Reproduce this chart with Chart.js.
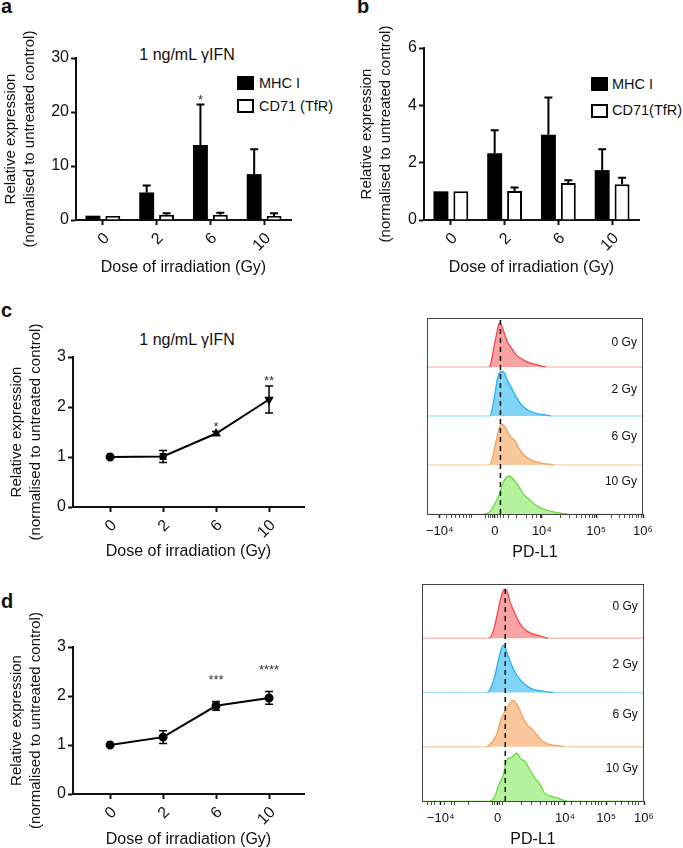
<!DOCTYPE html>
<html>
<head>
<meta charset="utf-8">
<script src="https://cdn.jsdelivr.net/npm/chart.js@4.4.1/dist/chart.umd.min.js"></script>
<style>
  body { margin: 0; background: #fff; font-family: "Liberation Sans", Arial, sans-serif; }
  #fig { position: relative; width: 683px; height: 848px; overflow: hidden; }
  canvas { position: absolute; }
  .t { position: absolute; white-space: nowrap; color: #111; }
  .lbl { font-weight: bold; font-size: 20px; line-height: 20px; }
  .ttl { font-size: 16px; line-height: 16px; transform: translateX(-50%); }
  .leg { font-size: 14.5px; line-height: 15px; }
  .box { position: absolute; width: 17px; height: 14px; box-sizing: border-box; }
</style>
</head>
<body>
<div id="fig">
  <div class="t lbl" style="left:1px;top:-4px">a</div>
  <div class="t lbl" style="left:357px;top:-4px">b</div>
  <div class="t lbl" style="left:1px;top:300px">c</div>
  <div class="t lbl" style="left:1px;top:591px">d</div>

  <div class="t ttl" style="left:187px;top:47px">1 ng/mL γIFN</div>
  <div class="t ttl" style="left:187px;top:332px">1 ng/mL γIFN</div>

  <div class="box" style="left:237px;top:76px;background:#000"></div>
  <div class="t leg" style="left:259px;top:76px">MHC I</div>
  <div class="box" style="left:237px;top:99px;border:2px solid #000;background:#fff"></div>
  <div class="t leg" style="left:259px;top:99px">CD71 (TfR)</div>

  <div class="box" style="left:591px;top:77px;background:#000"></div>
  <div class="t leg" style="left:612px;top:77px">MHC I</div>
  <div class="box" style="left:591px;top:104px;border:2px solid #000;background:#fff"></div>
  <div class="t leg" style="left:612px;top:103px">CD71(TfR)</div>

  <canvas id="chartA" width="340" height="277" style="left:0;top:0"></canvas>
  <canvas id="chartB" width="343" height="277" style="left:340px;top:0"></canvas>
  <canvas id="chartC" width="340" height="261" style="left:0;top:300px"></canvas>
  <canvas id="chartD" width="340" height="259" style="left:0;top:590px"></canvas>
  <canvas id="histC" width="280" height="262" style="left:380px;top:300px"></canvas>
  <canvas id="histD" width="280" height="279" style="left:380px;top:570px"></canvas>
</div>
<script>
// doses on every x axis
var doses = ['0', '2', '6', '10'];

// panel a: MHC I / CD71 at 1 ng/mL IFN (mean, +SD)
var aMhc = [0.8, 5.1, 13.9, 8.5];
var aMhcSd = [0, 1.3, 7.5, 4.6];
var aCd71 = [0.75, 0.95, 0.95, 0.75];
var aCd71Sd = [0, 0.3, 0.4, 0.5];
var aSig = ['', '', '*', ''];

// panel b
var bMhc = [1.0, 2.33, 2.97, 1.74];
var bMhcSd = [0, 0.8, 1.3, 0.73];
var bCd71 = [1.0, 1.01, 1.29, 1.25];
var bCd71Sd = [0, 0.12, 0.1, 0.22];

// panel c / d: PD-L1 relative expression
var cMean = [1.0, 1.01, 1.47, 2.15];
var cSd = [0, 0.12, 0.04, 0.27];
var cSig = ['', '', '*', '**'];
var dMean = [1.0, 1.16, 1.8, 1.96];
var dSd = [0, 0.13, 0.09, 0.13];
var dSig = ['', '', '***', '****'];

// flow histograms: [channel (% of axis), height (fraction of row)]
var rowLabels = ['0 Gy', '2 Gy', '6 Gy', '10 Gy'];
var histC0 = [[0,0],[28.8,0],[29.9,0.15],[31,0.42],[32.2,0.69],[33.3,0.91],[33.8,0.93],[35.3,0.78],[36.9,0.56],[39.2,0.39],[41.5,0.25],[44.6,0.15],[47.8,0.08],[50.9,0.05],[54,0.01],[55,0],[100,0]];
var histC2 = [[0,0],[29.1,0],[30.4,0.2],[31.5,0.48],[32.6,0.78],[33.8,0.92],[35,0.94],[36.1,0.88],[37.2,0.75],[38.4,0.65],[40,0.51],[41.5,0.39],[43.1,0.27],[45.4,0.17],[47.8,0.1],[50.9,0.05],[56.3,0.01],[57.5,0],[100,0]];
var histC6 = [[0,0],[28.8,0],[30.4,0.17],[31.9,0.48],[33.5,0.78],[34.6,0.86],[35.7,0.83],[37.2,0.71],[38.8,0.59],[40.8,0.5],[42.3,0.37],[44.6,0.22],[47,0.14],[50.1,0.07],[54,0.03],[57.8,0.01],[59,0],[100,0]];
var histC10 = [[0,0],[26.4,0],[29.1,0.05],[31.5,0.22],[33.8,0.46],[35.3,0.66],[36.9,0.78],[38.1,0.8],[40,0.73],[42.3,0.59],[44.6,0.42],[47,0.32],[49.3,0.22],[52.4,0.13],[56.3,0.07],[60.2,0.03],[64.8,0],[100,0]];
var histD0 = [[0,0],[30.1,0],[32.1,0.14],[33.6,0.39],[35.1,0.7],[36.1,0.85],[37,0.93],[38.1,0.91],[39.6,0.7],[41.1,0.54],[42.6,0.4],[44.9,0.23],[47.1,0.14],[50.2,0.08],[53.2,0.04],[56.9,0],[100,0]];
var histD2 = [[0,0],[29.5,0],[31.3,0.12],[32.8,0.31],[34.3,0.59],[35.5,0.8],[36.6,0.9],[37.7,0.83],[38.9,0.68],[40.4,0.52],[41.9,0.39],[44.1,0.25],[46.4,0.15],[49.4,0.07],[53.9,0.03],[59.2,0],[100,0]];
var histD6 = [[0,0],[29.1,0],[31.3,0.08],[33.6,0.23],[35.5,0.51],[37.3,0.67],[39.3,0.8],[40.8,0.88],[42.2,0.84],[43.7,0.73],[45.6,0.54],[47.9,0.39],[49.7,0.33],[51.7,0.23],[53.9,0.12],[56.9,0.05],[63,0.01],[64,0],[100,0]];
var histD10 = [[0,0],[30.6,0],[32.8,0.09],[34.6,0.31],[36.6,0.49],[38.1,0.77],[40.4,0.83],[42.6,0.91],[44.6,0.8],[46.4,0.75],[48.6,0.59],[50.9,0.43],[53.2,0.31],[55.4,0.14],[58.4,0.09],[61.4,0.05],[65.2,0],[100,0]];
var dashC = 34;
var dashD = 37.5;

// PD-L1 axis (biexponential), tick positions in % of axis
var pdTickText = ['\u221210\u2074', '0', '10\u2074', '10\u2075', '10\u2076'];
var pdMajorC = [5.9, 31.4, 53.2, 78.3, 100];
var pdMinorC = [9, 11.3, 13.3, 15.2, 16.7, 18.3, 19.5, 20.6, 27.1, 28.4, 29.5, 30.4, 32.6, 33.8, 35.3, 37.7, 41.5, 46.2, 49, 50.9, 52.4, 62, 66.2, 69.1, 71.5, 73.5, 75, 76.4, 77.7, 85.2, 89, 91.6, 93.6, 95.3, 96.9, 98.1, 99.2];
var pdMajorD = [8.4, 34.1, 64.4, 83, 100];
var pdMinorD = [2.4, 4.2, 5.7, 10.2, 13.3, 14.8, 20.8, 31.6, 32.8, 35.1, 36.1, 44.6, 49.4, 53.2, 56.2, 58.4, 59.9, 61.4, 67.5, 71.2, 74.2, 76.2, 78, 79.5, 81, 87, 90, 92.8, 94.6, 96.1, 97.6];
var rowLabelY_C = [3.49, 2.53, 1.57, 0.65];
var rowLabelY_D = [3.58, 2.51, 1.59, 0.59];

var histColors = [
  { line: '#f04848', fill: '#f7a3a3', base: '#f9c4c4' },
  { line: '#22b4ee', fill: '#80d4f5', base: '#a9e3f9' },
  { line: '#f6a058', fill: '#f9c89d', base: '#fbd6b6' },
  { line: '#62de3c', fill: '#b6f29e', base: '#c9f6b9' }
];

Chart.defaults.font.family = "'Liberation Sans', Arial, sans-serif";
Chart.defaults.color = '#111';

var yTitle = ['Relative expression', '(normalised to untreated control)'];

var errorBars = {
  id: 'errorBars',
  afterDatasetsDraw: function(chart, args, opts) {
    var ctx = chart.ctx, ys = chart.scales.y;
    chart.data.datasets.forEach(function(ds, di) {
      if (!ds.errors) return;
      var meta = chart.getDatasetMeta(di);
      meta.data.forEach(function(el, i) {
        var e = ds.errors[i];
        if (!e) return;
        var m = typeof ds.data[i] === 'object' ? ds.data[i].y : ds.data[i];
        var yt = ys.getPixelForValue(m + e);
        var yb = ys.getPixelForValue(opts.upOnly ? m : m - e);
        ctx.save();
        ctx.strokeStyle = '#000';
        ctx.lineWidth = opts.width || 2;
        ctx.beginPath();
        ctx.moveTo(el.x, yb); ctx.lineTo(el.x, yt);
        ctx.moveTo(el.x - opts.cap, yt); ctx.lineTo(el.x + opts.cap, yt);
        if (!opts.upOnly) { ctx.moveTo(el.x - opts.cap, yb); ctx.lineTo(el.x + opts.cap, yb); }
        ctx.stroke();
        ctx.restore();
      });
    });
  }
};

var sigStars = {
  id: 'sigStars',
  afterDatasetsDraw: function(chart, args, opts) {
    if (!opts.labels) return;
    var ds = chart.data.datasets[opts.dataset || 0];
    var meta = chart.getDatasetMeta(opts.dataset || 0);
    var ctx = chart.ctx, ys = chart.scales.y;
    ctx.save();
    ctx.font = '13px ' + Chart.defaults.font.family;
    ctx.fillStyle = '#333';
    ctx.textAlign = 'center';
    ctx.textBaseline = 'alphabetic';
    opts.labels.forEach(function(s, i) {
      if (!s) return;
      var m = typeof ds.data[i] === 'object' ? ds.data[i].y : ds.data[i];
      var y = ys.getPixelForValue(m + (ds.errors ? ds.errors[i] : 0)) - opts.gap;
      ctx.fillText(s, meta.data[i].x, y + 7.4);
    });
    ctx.restore();
  }
};

function yAxis(max, step, width, titlePad) {
  return {
    min: 0, max: max,
    ticks: { stepSize: step, font: { size: 16 }, color: '#111', padding: 2 },
    grid: { drawOnChartArea: false, tickLength: 5, tickWidth: 2, tickColor: '#111' },
    border: { color: '#111', width: 2 },
    title: { display: true, text: yTitle, color: '#111', font: { size: 15, lineHeight: 1.3 }, padding: { top: titlePad, bottom: 0 } },
    afterFit: function(s) { s.width = width; }
  };
}

function xTitle(text) {
  return { display: true, text: text, color: '#111', font: { size: 16, lineHeight: 1.2 }, padding: 0 };
}

function barChart(id, mhc, mhcSd, cd71, cd71Sd, ymax, step, yWidth, titlePad, pad, sig) {
  return new Chart(document.getElementById(id), {
    type: 'bar',
    data: {
      labels: doses,
      datasets: [
        { label: 'MHC I', data: mhc, errors: mhcSd, backgroundColor: '#000', borderColor: '#000', borderWidth: 0 },
        { label: 'CD71 (TfR)', data: cd71, errors: cd71Sd, backgroundColor: '#fff', borderColor: '#000', borderWidth: 2 }
      ]
    },
    options: {
      responsive: false, animation: false, events: [],
      barPercentage: 0.75, categoryPercentage: 0.74,
      layout: { padding: pad },
      plugins: { legend: { display: false }, tooltip: { enabled: false },
        errorBars: { upOnly: true, cap: 4, width: 2 },
        sigStars: { labels: sig, dataset: 0, gap: 8 } },
      scales: {
        x: {
          grid: { offset: false, drawOnChartArea: false, tickLength: 5, tickWidth: 2, tickColor: '#111' },
          border: { color: '#111', width: 2 },
          ticks: { minRotation: 45, maxRotation: 45, font: { size: 16 }, color: '#111', padding: 4, labelOffset: 4 },
          title: xTitle('Dose of irradiation (Gy)'),
          afterFit: function(s) { s.height = 57; }
        },
        y: yAxis(ymax, step, yWidth, titlePad)
      }
    },
    plugins: [errorBars, sigStars]
  });
}

barChart('chartA', aMhc, aMhcSd, aCd71, aCd71Sd, 30, 10, 76, 1, { top: 58, right: 49, left: 0, bottom: 0 }, aSig);
barChart('chartB', bMhc, bMhcSd, bCd71, bCd71Sd, 6, 2, 84, 17, { top: 48, right: 44, left: 0, bottom: 0 }, null);

function lineChart(id, mean, sd, sig, styles, rots, gap, xHeight) {
  return new Chart(document.getElementById(id), {
    type: 'line',
    data: {
      datasets: [{
        data: mean.map(function(v, i) { return { x: i, y: v }; }),
        errors: sd,
        borderColor: '#000', borderWidth: 2,
        pointStyle: styles, rotation: rots, pointRadius: 3.5,
        pointBackgroundColor: '#000', pointBorderColor: '#000', tension: 0
      }]
    },
    options: {
      responsive: false, animation: false, events: [],
      layout: { padding: { top: 57, right: 36, left: 0, bottom: 0 } },
      plugins: { legend: { display: false }, tooltip: { enabled: false },
        errorBars: { upOnly: false, cap: 4, width: 1.5 },
        sigStars: { labels: sig, dataset: 0, gap: gap } },
      scales: {
        x: {
          type: 'linear', min: -0.7, max: 3.66,
          afterBuildTicks: function(s) { s.ticks = doses.map(function(d, i) { return { value: i }; }); },
          grid: { drawOnChartArea: false, tickLength: 5, tickWidth: 2, tickColor: '#111' },
          border: { color: '#111', width: 2 },
          ticks: { minRotation: 45, maxRotation: 45, autoSkip: false, font: { size: 16 }, color: '#111', padding: 4, labelOffset: 4,
            callback: function(v, i) { return doses[i]; } },
          title: xTitle('Dose of irradiation (Gy)'),
          afterFit: function(s) { s.height = xHeight; }
        },
        y: yAxis(3, 1, 73, 7)
      }
    },
    plugins: [errorBars, sigStars]
  });
}

lineChart('chartC', cMean, cSd, cSig, ['circle', 'rect', 'triangle', 'triangle'], [0, 0, 0, 180], 8, 54);
lineChart('chartD', dMean, dSd, dSig, 'circle', 0, 25, 55);

var frame = {
  id: 'frame',
  afterDraw: function(chart) {
    var a = chart.chartArea, ctx = chart.ctx;
    ctx.save();
    ctx.strokeStyle = '#444';
    ctx.lineWidth = 1;
    ctx.strokeRect(a.left + 0.5, a.top + 0.5, a.right - a.left - 1, a.bottom - a.top);
    ctx.restore();
  }
};

var rowText = {
  id: 'rowText',
  afterDatasetsDraw: function(chart, args, opts) {
    var ctx = chart.ctx, xs = chart.scales.x, ys = chart.scales.y;
    ctx.save();
    ctx.font = '12px ' + Chart.defaults.font.family;
    ctx.fillStyle = '#111';
    ctx.textAlign = 'right';
    ctx.textBaseline = 'middle';
    rowLabels.forEach(function(t, r) {
      ctx.fillText(t, xs.getPixelForValue(opts.x), ys.getPixelForValue(opts.y[r]));
    });
    ctx.restore();
  }
};

function histChart(id, rows, dashX, majors, minors, labelY, pad) {
  var sets = rows.map(function(pts, r) {
    var base = 3 - r, col = histColors[r];
    return {
      data: pts.map(function(p) { return { x: p[0], y: base + p[1] * 0.97 }; }),
      fill: { value: base },
      backgroundColor: col.fill, borderColor: col.line, borderWidth: 1.3,
      pointRadius: 0, tension: 0.25, cubicInterpolationMode: 'monotone',
      segment: {
        borderColor: function(ctx) { return (ctx.p0.parsed.y === base && ctx.p1.parsed.y === base) ? col.base : undefined; }
      }
    };
  });
  sets.push({
    data: [{ x: dashX, y: 0 }, { x: dashX, y: 4 }],
    borderColor: '#111', borderWidth: 1.5, borderDash: [5, 4],
    pointRadius: 0, fill: false, order: -1
  });
  var ticks = majors.concat(minors).sort(function(p, q) { return p - q; });
  return new Chart(document.getElementById(id), {
    type: 'line',
    data: { datasets: sets },
    options: {
      responsive: false, animation: false, events: [],
      layout: { padding: pad },
      plugins: { legend: { display: false }, tooltip: { enabled: false },
        rowText: { x: 97.2, y: labelY } },
      scales: {
        x: {
          type: 'linear', min: 0, max: 100,
          afterBuildTicks: function(s) { s.ticks = ticks.map(function(v) { return { value: v }; }); },
          grid: { drawOnChartArea: false, tickLength: 4, tickColor: '#222',
            tickWidth: function(c) { return c.tick && majors.indexOf(c.tick.value) >= 0 ? 1.5 : 0.8; } },
          border: { color: '#444', width: 1 },
          ticks: { autoSkip: false, maxRotation: 0, minRotation: 0, font: { size: 13 }, color: '#111', padding: 6,
            callback: function(v) { var k = majors.indexOf(v); return k >= 0 ? pdTickText[k] : ''; } },
          title: xTitle('PD-L1'),
          afterFit: function(s) { s.height = 48; }
        },
        y: { display: false, min: 0, max: 4 }
      }
    },
    plugins: [frame, rowText]
  });
}

histChart('histC', [histC0, histC2, histC6, histC10], dashC, pdMajorC, pdMinorC, rowLabelY_C, { left: 47, right: 17, top: 18, bottom: 0 });
histChart('histD', [histD0, histD2, histD6, histD10], dashD, pdMajorD, pdMinorD, rowLabelY_D, { left: 42, right: 16, top: 14, bottom: 0 });
</script>
</body>
</html>
